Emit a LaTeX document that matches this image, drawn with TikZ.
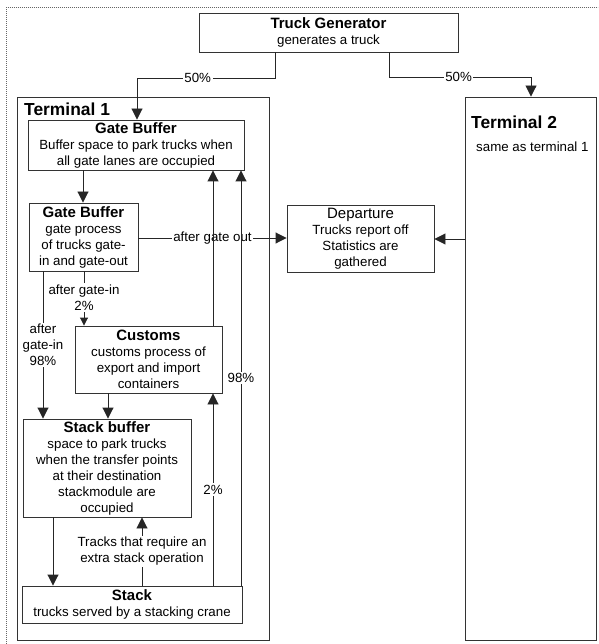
\documentclass[tikz,border=0pt]{standalone}
\usepackage{fontspec}
\setmainfont{Liberation Sans}
\usetikzlibrary{arrows.meta}
\newcommand\boxtitle[1]{{\fontsize{15}{17}\selectfont\bfseries #1}}
\begin{document}
\begin{tikzpicture}[x=1pt,y=-1pt,
  box/.style={draw=black!80, line width=0.9pt, rectangle, inner sep=0pt, align=center, font=\fontsize{13.3}{16}\selectfont},
  conn/.style={draw=black!85, line width=0.9pt},
  arr/.style={conn, -{Triangle[length=11pt,width=11pt]}},
  sarr/.style={conn, -{Triangle[length=8pt,width=8pt]}},
  lab/.style={fill=white, inner sep=1.5pt, align=center, font=\fontsize{13.3}{16}\selectfont},
]
\useasboundingbox (0,0) rectangle (598,644);
\begin{scope}
\clip (0,0) rectangle (598,644);
\draw[black!60, densely dotted, line width=1pt] (6,660) -- (6,7.5) -- (620,7.5);
\end{scope}

% containers
\node[box, minimum width=252pt, minimum height=543pt] (t1) at (143,368.5) {};
\node[box, minimum width=131pt, minimum height=543pt] (t2) at (530.5,368.5) {};
\node[anchor=west, inner sep=0pt, font=\fontsize{17.4}{20}\selectfont\bfseries] (t1title) at (24,109) {Terminal 1};
\node[anchor=west, inner sep=0pt, font=\fontsize{17.4}{20}\selectfont\bfseries] (t2title) at (471,122) {Terminal 2};
\node[anchor=west, inner sep=0pt, font=\fontsize{13.3}{16}\selectfont] (t2text) at (476,147) {same as terminal 1};

% boxes
\node[box, minimum width=259pt, minimum height=39pt] (gen) at (328.5,32.5) {\boxtitle{Truck Generator}\\generates a truck};
\node[box, minimum width=216pt, minimum height=50pt] (gb1) at (136,145) {\boxtitle{Gate Buffer}\\Buffer space to park trucks when\\all gate lanes are occupied};
\node[box, minimum width=109pt, minimum height=68pt] (gb2) at (83.5,237) {\boxtitle{Gate Buffer}\\gate process\\of trucks gate-\\in and gate-out};
\node[box, minimum width=147pt, minimum height=67pt] (dep) at (360.5,238.5) {{\fontsize{15}{17}\selectfont Departure}\\Trucks report off\\Statistics are\\gathered};
\node[box, minimum width=147pt, minimum height=67pt] (cus) at (148.5,359.5) {\boxtitle{Customs}\\customs process of\\export and import\\containers};
\node[box, minimum width=168pt, minimum height=98pt] (sb) at (107,468) {\boxtitle{Stack buffer}\\space to park trucks\\when the transfer points\\at their destination\\stackmodule are\\occupied};
\node[box, minimum width=220pt, minimum height=37pt] (st) at (132,604.5) {\boxtitle{Stack}\\trucks served by a stacking crane};

% bend points
\coordinate (k1) at (275,78);
\coordinate (k2) at (137,78);
\coordinate (k3) at (389,77);
\coordinate (k4) at (531,77);

% connectors
\draw[arr] (gen.south -| k1) -- (k1) -- node[lab, pos=0.56] (l50a) {50\%} (k2) -- (k2 |- gb1.north);
\draw[arr] (gen.south -| k3) -- (k3) -- node[lab, pos=0.49] (l50b) {50\%} (k4) -- (k4 |- t2.north);
\draw[arr] (gb1.south -| 83,0) -- (gb2.north -| 83,0);
\draw[arr] (gb2.east |- 0,238) -- node[lab] (lgo) {after gate out} (dep.west |- 0,238);
\draw[arr] (t2.west |- 0,239) -- (dep.east |- 0,239);
\draw[arr] (gb2.south -| 43,0) -- node[lab, pos=0.5] (lgi98) {after\\gate-in\\98\%} (sb.north -| 43,0);
\draw[sarr] (gb2.south -| 84,0) -- node[lab, pos=0.48] (lgi2) {after gate-in\\2\%} (cus.north -| 84,0);
\draw[arr] (cus.south -| 108,0) -- (sb.north -| 108,0);
\draw[arr] (cus.north -| 213,0) -- (gb1.south -| 213,0);
\draw[arr] (st.north -| 213,0) -- node[lab] (l2) {2\%} (cus.south -| 213,0);
\draw[arr] (st.north -| 241,0) -- node[lab] (l98) {98\%} (gb1.south -| 241,0);
\draw[arr] (sb.south -| 53,0) -- (st.north -| 53,0);
\draw[arr] (st.north -| 142,0) -- node[lab] (lextra) {Tracks that require an\\extra stack operation} (sb.south -| 142,0);
\end{tikzpicture}
\end{document}
